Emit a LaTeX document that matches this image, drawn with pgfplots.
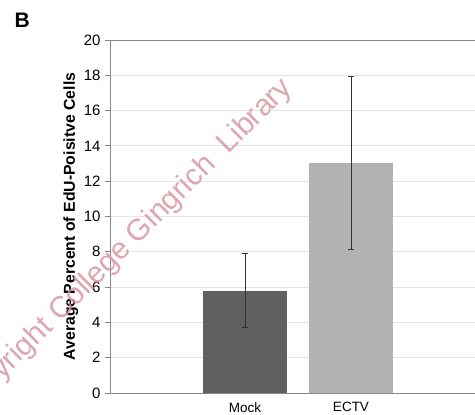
\documentclass[border=0pt]{standalone}
\usepackage{pgfplots}
\pgfplotsset{compat=1.18}
\usepackage{fontspec}
\setmainfont{Liberation Sans}
\definecolor{mockc}{RGB}{96,96,96}
\definecolor{ectvc}{RGB}{178,178,178}
\definecolor{gridc}{RGB}{228,228,228}
\definecolor{axc}{RGB}{134,134,134}
\definecolor{wm}{RGB}{216,150,160}
\begin{document}
\begin{tikzpicture}
\path[use as bounding box, clip] (0,0) rectangle (475pt,415pt);
\begin{axis}[
  at={(110pt,22pt)}, anchor=south west,
  scale only axis, width=365pt, height=353pt,
  xmin=-1.274, xmax=2.17, ymin=0, ymax=20,
  axis x line*=bottom, axis y line*=left,
  axis line style={axc, line width=0.8pt},
  ytick={0,2,...,20},
  xtick={0,1}, xticklabels={Mock,ECTV},
  xtick style={draw=none},
  ytick style={axc, line width=0.8pt},
  tick align=outside, major tick length=5pt,
  ymajorgrids, grid style={gridc, line width=0.8pt},
  extra y ticks={20}, extra y tick labels={},
  extra y tick style={grid style={axc, line width=0.8pt}, major tick length=0pt},
  /pgf/number format/assume math mode=true,
  xticklabel style={font=\fontsize{13.5}{15}\selectfont, yshift=-1pt},
  yticklabel style={font=\fontsize{15}{17}\selectfont, xshift=-1pt},
  ylabel={Average Percent of EdU-Poisitve Cells},
  ylabel style={at={(axis description cs:-0.107,0.5)}, anchor=center, font=\fontsize{15.8}{18}\selectfont\bfseries},
]
\addplot[ybar, bar width=84pt, fill=mockc, draw=none,
  error bars/.cd, y dir=both, y explicit,
  error bar style={black!80, line width=0.6pt},
  error mark options={rotate=90, mark size=3pt, black!80, line width=0.6pt}]
  coordinates {(0,5.8) +- (0,2.1)};
\addplot[ybar, bar width=84pt, fill=ectvc, draw=none,
  error bars/.cd, y dir=both, y explicit,
  error bar style={black!80, line width=0.6pt},
  error mark options={rotate=90, mark size=3pt, black!80, line width=0.6pt}]
  coordinates {(1,13.05) +- (0,4.9)};
\end{axis}
\node[anchor=west, font=\fontsize{21}{24}\selectfont\bfseries] at (11pt,395pt) {B};
\node[rotate=45, text=wm, font=\fontsize{30}{32}\selectfont, opacity=0.85] at (123pt,166pt) {Copyright College Gingrich\ \ Library};
\end{tikzpicture}
\end{document}
